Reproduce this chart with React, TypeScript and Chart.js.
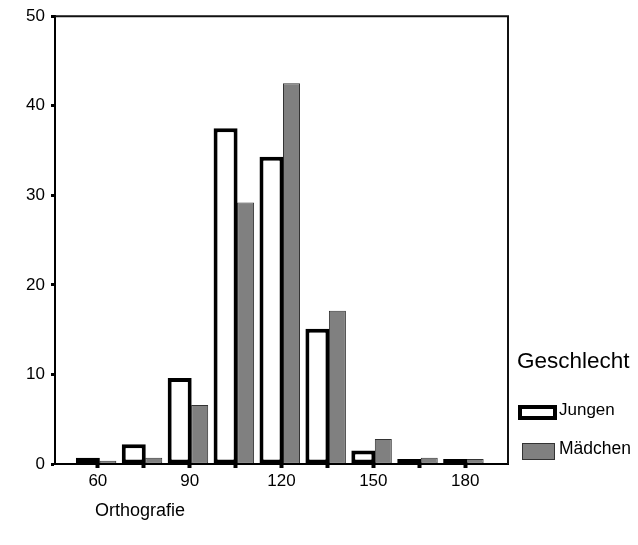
import React, { useEffect, useRef } from "react";
import { Chart, registerables } from "chart.js";

Chart.register(...registerables);

const categories = [60, 75, 90, 105, 120, 135, 150, 165, 180];
const jungen = [0.7, 2.2, 9.6, 37.5, 34.3, 15.1, 1.5, 0.55, 0.55];
const maedchen = [0.35, 0.7, 6.6, 29.2, 42.5, 17.1, 2.8, 0.7, 0.55];
const xLabelValues = [60, 90, 120, 150, 180];
const yTickValues = [0, 10, 20, 30, 40, 50];
const seriesNames = ["Jungen", "Mädchen"];
const legendTitle = "Geschlecht";
const xTitle = "Orthografie";

const FONT = "'Liberation Sans', Arial, sans-serif";

const framePlugin = {
  id: "frame",
  afterDraw(chart: any) {
    const { ctx, chartArea: a } = chart;
    ctx.save();
    ctx.strokeStyle = "#111";
    ctx.lineWidth = 2;
    ctx.beginPath();
    ctx.moveTo(a.left, a.top);
    ctx.lineTo(a.right, a.top);
    ctx.lineTo(a.right, a.bottom);
    ctx.stroke();
    ctx.restore();
  },
};

export default function App() {
  const ref = useRef<HTMLCanvasElement | null>(null);

  useEffect(() => {
    if (!ref.current) return;
    const chart = new Chart(ref.current, {
      type: "bar",
      data: {
        datasets: [
          {
            label: seriesNames[0],
            data: categories.map((c, i) => ({ x: c, y: jungen[i] })),
            backgroundColor: "#ffffff",
            borderColor: "#000000",
            borderWidth: 4,
            borderSkipped: false,
            barPercentage: 1.2,
            categoryPercentage: 0.871,
          },
          {
            label: seriesNames[1],
            data: categories.map((c, i) => ({ x: c, y: maedchen[i] })),
            backgroundColor: "#808080",
            borderColor: "#333333",
            borderWidth: 1,
            borderSkipped: false,
            barPercentage: 0.85,
            categoryPercentage: 0.871,
          },
        ],
      },
      options: {
        animation: false,
        responsive: false,
        devicePixelRatio: 1,
        layout: { padding: { left: 0, top: 12, right: 130, bottom: 0 } },
        plugins: {
          legend: { display: false },
          tooltip: { enabled: false },
        },
        scales: {
          x: {
            type: "linear",
            min: 46,
            max: 194,
            offset: false,
            afterFit: (s: any) => {
              s.height = 81;
            },
            afterBuildTicks: (s: any) => {
              s.ticks = categories.map((v) => ({ value: v }));
            },
            ticks: {
              autoSkip: false,
              maxRotation: 0,
              padding: 3,
              color: "#000",
              font: { family: FONT, size: 17 },
              callback: (v: any) => (xLabelValues.includes(Number(v)) ? String(v) : ""),
            },
            grid: {
              display: true,
              offset: false,
              drawOnChartArea: false,
              drawTicks: true,
              tickLength: 4,
              tickWidth: 4,
              tickColor: "#000",
              z: 1,
            },
            border: { display: true, color: "#000", width: 2, z: 2 },
          },
          y: {
            min: 0,
            max: 50,
            afterFit: (s: any) => {
              s.width = 55;
            },
            afterBuildTicks: (s: any) => {
              s.ticks = yTickValues.map((v) => ({ value: v }));
            },
            ticks: {
              padding: 6,
              color: "#000",
              font: { family: FONT, size: 17 },
            },
            grid: {
              display: true,
              drawOnChartArea: false,
              drawTicks: true,
              tickLength: 4,
              tickWidth: 3,
              tickColor: "#000",
              z: 1,
            },
            border: { display: true, color: "#000", width: 2, z: 2 },
          },
        },
      },
      plugins: [framePlugin],
    } as any);
    return () => chart.destroy();
  }, []);

  const textStyle = (left: number, top: number, size: number): React.CSSProperties => ({
    position: "absolute",
    left,
    top,
    fontFamily: FONT,
    fontSize: size,
    lineHeight: 1,
    color: "#000",
    whiteSpace: "nowrap",
  });

  return (
    <div style={{ position: "absolute", left: 0, top: 0, width: 638, height: 545, background: "#fff" }}>
      <canvas ref={ref} width={638} height={545} style={{ display: "block", width: 638, height: 545 }} />
      <div style={textStyle(517, 350, 22.5)}>{legendTitle}</div>
      <div
        style={{
          position: "absolute",
          left: 518,
          top: 405,
          width: 39,
          height: 15,
          boxSizing: "border-box",
          border: "4px solid #000",
          background: "#fff",
        }}
      />
      <div style={textStyle(559, 401, 17)}>{seriesNames[0]}</div>
      <div
        style={{
          position: "absolute",
          left: 522,
          top: 443,
          width: 33,
          height: 17,
          boxSizing: "border-box",
          border: "1px solid #333",
          background: "#808080",
        }}
      />
      <div style={textStyle(559, 440, 17.5)}>{seriesNames[1]}</div>
      <div style={textStyle(95, 501, 18)}>{xTitle}</div>
    </div>
  );
}
